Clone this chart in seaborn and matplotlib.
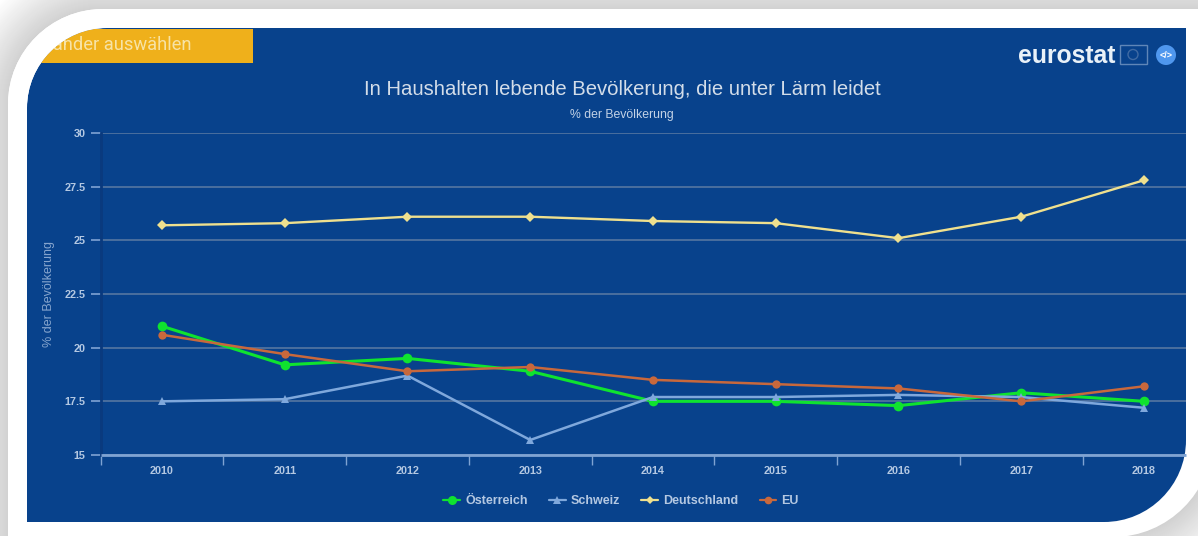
import matplotlib
matplotlib.use("Agg")
import matplotlib.pyplot as plt
import numpy as np
import pandas as pd
import seaborn as sns
from matplotlib.patches import PathPatch, Rectangle, Circle
from matplotlib.path import Path

years = [2010, 2011, 2012, 2013, 2014, 2015, 2016, 2017, 2018]
oesterreich = [21.0, 19.2, 19.5, 18.9, 17.5, 17.5, 17.3, 17.9, 17.5]
schweiz = [17.5, 17.6, 18.7, 15.7, 17.7, 17.7, 17.8, 17.7, 17.2]
deutschland = [25.7, 25.8, 26.1, 26.1, 25.9, 25.8, 25.1, 26.1, 27.8]
eu = [20.6, 19.7, 18.9, 19.1, 18.5, 18.3, 18.1, 17.5, 18.2]
y_ticks = [15, 17.5, 20, 22.5, 25, 27.5, 30]
y_labels = ["15", "17.5", "20", "22.5", "25", "27.5", "30"]
title = "In Haushalten lebende Bevölkerung, die unter Lärm leidet"
subtitle = "% der Bevölkerung"
button = "Länder auswählen"

palette = {"Österreich": "#0fe32f", "Schweiz": "#7fa8dc", "Deutschland": "#efe08e", "EU": "#c8683c"}
markers = {"Österreich": "o", "Schweiz": "^", "Deutschland": "D", "EU": "o"}
line_sizes = {"Österreich": (2.2, 7), "Schweiz": (1.8, 6), "Deutschland": (1.7, 5), "EU": (1.8, 6)}
panel_color = "#08428c"
text_color = "#b4c8e2"
tick_color = "#7fa3d3"


def corner_path(x0, y0, x1, y1, r_tl, r_br):
    # rectangle with only the top left and bottom right corners rounded (y points down)
    k = 0.55
    verts = [
        (x0 + r_tl, y0), (x1, y0), (x1, y1 - r_br),
        (x1, y1 - r_br + k * r_br), (x1 - r_br + k * r_br, y1), (x1 - r_br, y1),
        (x0, y1), (x0, y0 + r_tl),
        (x0, y0 + r_tl - k * r_tl), (x0 + r_tl - k * r_tl, y0), (x0 + r_tl, y0),
    ]
    codes = [Path.MOVETO, Path.LINETO, Path.LINETO,
             Path.CURVE4, Path.CURVE4, Path.CURVE4,
             Path.LINETO, Path.LINETO,
             Path.CURVE4, Path.CURVE4, Path.CURVE4]
    return Path(verts, codes)


sns.set_theme(style="white")
plt.rcParams["font.family"] = ["Liberation Sans", "DejaVu Sans"]

fig = plt.figure(figsize=(11.98, 5.36), dpi=100, facecolor="white")

# frame, shadow and blue panel in pixel coordinates
bg = fig.add_axes([0, 0, 1, 1])
bg.set_xlim(0, 1198)
bg.set_ylim(536, 0)
bg.axis("off")
for off in range(50, -1, -1):
    shade = 0.82 + 0.18 * off / 50
    bg.add_patch(PathPatch(corner_path(8 - off, 9 - off, 1213 + off, 537 + off, 95 + off, 100 + off),
                           fc=(shade, shade, shade), ec="none"))
bg.add_patch(PathPatch(corner_path(8, 9, 1213, 537, 95, 100), fc="white", ec="none"))
panel = PathPatch(corner_path(27, 28, 1186, 522, 80, 82), fc=panel_color, ec="none")
bg.add_patch(panel)

# button, clipped to the panel; agg does not clip text to a path so a white ring hides its start
btn = Rectangle((27, 29), 226, 34, fc="#efb01b", ec="none", zorder=2)
bg.add_patch(btn)
btn.set_clip_path(panel)
bg.text(43, 45.5, button, color="#f7e3a6", fontsize=13.2, va="center", ha="left", family="Roboto", zorder=3)
k = 0.55
ring = Path([(103, 9), (103 - k * 95, 9), (8, 104 - k * 95), (8, 104),
             (27, 108), (27, 108 - k * 80), (107 - k * 80, 28), (107, 28), (103, 9)],
            [Path.MOVETO, Path.CURVE4, Path.CURVE4, Path.CURVE4,
             Path.LINETO, Path.CURVE4, Path.CURVE4, Path.CURVE4, Path.CLOSEPOLY])
bg.add_patch(PathPatch(ring, fc="white", ec="none", zorder=4))

# logo
bg.text(1018, 56, "eurostat", color="#e9f1f8", fontsize=17.8, fontweight="bold", va="center", ha="left")
bg.add_patch(Rectangle((1120, 45), 27, 19, fc="none", ec="#5f86b8", lw=1))
bg.add_patch(Circle((1133, 54.5), 5, fc="none", ec="#3f6aa3", lw=1))
bg.add_patch(Circle((1166, 55), 10, fc="#4f97ee", ec="none"))
bg.text(1166, 55, "</>", color="white", fontsize=6.5, fontweight="bold", va="center", ha="center")

bg.text(622, 89.5, title, color="#d3dde9", fontsize=14.55, va="center", ha="center")
bg.text(622, 115, subtitle, color="#c3d2e6", fontsize=8.8, va="center", ha="center")

# chart
left, right, top, bottom = 100.6, 1186, 133, 455
ax = fig.add_axes([left / 1198, 1 - bottom / 536, (right - left) / 1198, (bottom - top) / 536])
ax.patch.set_alpha(0)

df = pd.DataFrame({
    "Jahr": years * 4,
    "Land": ["Österreich"] * 9 + ["Schweiz"] * 9 + ["Deutschland"] * 9 + ["EU"] * 9,
    "Wert": oesterreich + schweiz + deutschland + eu,
})
sns.lineplot(data=df, x="Jahr", y="Wert", hue="Land", style="Land", palette=palette,
             markers=markers, dashes=False, linewidth=1.8, markersize=6,
             markeredgewidth=0, ax=ax, clip_on=False, zorder=3)
for line, land in zip(ax.get_lines(), palette):
    line.set_linewidth(line_sizes[land][0])
    line.set_markersize(line_sizes[land][1])

ax.set_xticks(years)
ax.set_xticklabels([str(y) for y in years])
ax.set_xticks([y - 0.5 for y in years] + [2018.5], minor=True)
ax.set_xlim(2009.5, 2009.5 + (right - left) / 122.75)
ax.set_ylim(15, 30)
ax.set_yticks(y_ticks)
ax.set_yticklabels(y_labels)
ax.tick_params(axis="x", which="major", bottom=False, length=0, pad=8, labelsize=7.8, labelcolor=text_color)
ax.tick_params(axis="x", which="minor", bottom=True, length=7.2, width=1, color=tick_color)
ax.tick_params(axis="y", left=True, length=7.2, width=1.2, color=tick_color, pad=3.6,
               labelsize=7.8, labelcolor=text_color)
for lab in ax.get_xticklabels() + ax.get_yticklabels():
    lab.set_fontweight("bold")
ax.grid(axis="y", color="#4a6f9e", lw=1.4, zorder=1)
ax.set_axisbelow(True)
for s in ["top", "right"]:
    ax.spines[s].set_visible(False)
ax.spines["left"].set_color("#0a3a7e")
ax.spines["left"].set_linewidth(2)
ax.spines["bottom"].set_color(tick_color)
ax.spines["bottom"].set_linewidth(2)
ax.spines["bottom"].set_capstyle("butt")
ax.set_xlabel("")
ax.set_ylabel("% der Bevölkerung", color="#86a5ce", fontsize=9, labelpad=0)
ax.yaxis.set_label_coords((55 - left) / (right - left), 0.5)

sns.move_legend(ax, "center", bbox_to_anchor=((621 - left) / (right - left), (bottom - 501) / (bottom - top)),
                ncols=4, frameon=False, title=None, fontsize=9, labelcolor=text_color,
                columnspacing=1.7, handlelength=1.35, handletextpad=0.4)
leg = ax.get_legend()
for t in leg.get_texts():
    t.set_fontweight("bold")
for h, land in zip(leg.legend_handles, palette):
    h.set_linewidth(1.6)
    h.set_markersize(line_sizes[land][1] - 0.5)

fig.savefig("out.png", dpi=100, facecolor="white")
